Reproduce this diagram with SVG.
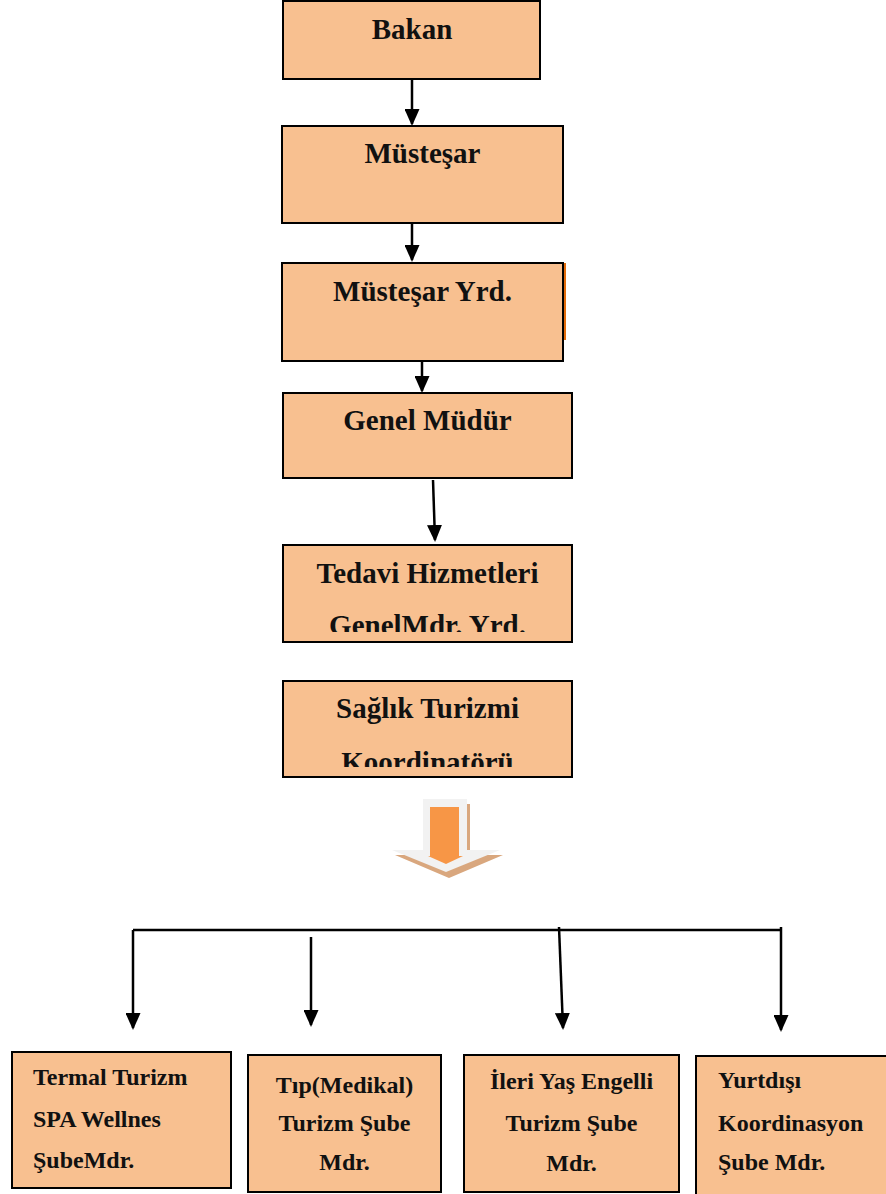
<svg xmlns="http://www.w3.org/2000/svg" width="886" height="1194" viewBox="0 0 886 1194">
<style>
.box{fill:#F8C090;stroke:#000;stroke-width:2}
.t{font-family:"Liberation Serif","Times New Roman",serif;font-weight:bold;fill:#111}
.big{font-size:29px;text-anchor:middle}
.sm{font-size:24px}
.mid{text-anchor:middle}
.con{stroke:#000;stroke-width:2.5;fill:none}
.arr{marker-end:url(#ah)}
</style>
<defs>
<marker id="ah" viewBox="0 0 17 15" refX="15" refY="7.5" markerWidth="17" markerHeight="15" markerUnits="userSpaceOnUse" orient="auto">
<path d="M0,0 L17,7.5 L0,15 z" fill="#000"/>
</marker>
<clipPath id="c1"><rect x="283" y="545" width="289" height="87"/></clipPath>
<clipPath id="c2"><rect x="283" y="681" width="289" height="86"/></clipPath>
</defs>
<rect width="886" height="1194" fill="#fff"/>

<g id="bakan"><rect class="box" x="283" y="1" width="257" height="78"/><text class="t big" x="412" y="39">Bakan</text></g>
<g id="mustesar"><rect class="box" x="282" y="126" width="281" height="97"/><text class="t big" x="422.5" y="163">Müsteşar</text></g>
<g id="mustesar-yrd"><line x1="565" y1="263" x2="565" y2="340" stroke="#E36C0A" stroke-width="2"/><rect class="box" x="282" y="263" width="281" height="98"/><text class="t big" x="422.5" y="301">Müsteşar Yrd.</text></g>
<g id="genel-mudur"><rect class="box" x="283" y="393" width="289" height="85"/><text class="t big" x="427.5" y="430">Genel Müdür</text></g>
<g id="tedavi"><rect class="box" x="283" y="545" width="289" height="97"/><text class="t big" x="427.5" y="583">Tedavi Hizmetleri</text><text class="t big" x="427.5" y="635" clip-path="url(#c1)">GenelMdr. Yrd.</text></g>
<g id="saglik"><rect class="box" x="283" y="681" width="289" height="96"/><text class="t big" x="427.5" y="718">Sağlık Turizmi</text><text class="t big" x="427.5" y="772" clip-path="url(#c2)">Koordinatörü</text></g>

<g id="block-arrow">
<polygon points="426,804 470,804 470,855 503,855 449,878 395,855 426,855" fill="#D9A77E"/>
<polygon points="423,799 467,799 467,850 500,850 446,872 392,850 423,850" fill="#F2F2F2"/>
<polygon points="430,807 459,807 459,856 463,856 446,864 428,856 430,856" fill="#F79646"/>
</g>

<g id="connectors">
<line class="con arr" x1="412" y1="80" x2="412" y2="124"/>
<line class="con arr" x1="412" y1="224" x2="412" y2="260"/>
<line class="con arr" x1="422" y1="362" x2="422" y2="391"/>
<line class="con arr" x1="433" y1="480" x2="435" y2="540"/>
<line class="con" x1="133" y1="930" x2="782" y2="930"/>
<line class="con arr" x1="133" y1="930" x2="133" y2="1028"/>
<line class="con arr" x1="311" y1="937" x2="311" y2="1025"/>
<line class="con arr" x1="559" y1="927" x2="563" y2="1028"/>
<line class="con arr" x1="781" y1="927" x2="781" y2="1030"/>
</g>

<g id="termal"><rect class="box" x="12" y="1052" width="219" height="136"/>
<text class="t sm" x="33" y="1085">Termal Turizm</text><text class="t sm" x="33" y="1127">SPA Wellnes</text><text class="t sm" x="33" y="1168">ŞubeMdr.</text></g>
<g id="tip"><rect class="box" x="248" y="1055" width="193" height="137"/>
<text class="t sm mid" x="344.5" y="1093">Tıp(Medikal)</text><text class="t sm mid" x="344.5" y="1131">Turizm Şube</text><text class="t sm mid" x="344.5" y="1170">Mdr.</text></g>
<g id="ileri"><rect class="box" x="464" y="1055" width="215" height="137"/>
<text class="t sm mid" x="571.5" y="1089">İleri Yaş Engelli</text><text class="t sm mid" x="571.5" y="1131">Turizm Şube</text><text class="t sm mid" x="571.5" y="1171">Mdr.</text></g>
<g id="yurtdisi"><rect class="box" x="696" y="1056" width="200" height="150"/>
<text class="t sm" x="718" y="1088">Yurtdışı</text><text class="t sm" x="718" y="1131">Koordinasyon</text><text class="t sm" x="718" y="1170">Şube Mdr.</text></g>
</svg>
